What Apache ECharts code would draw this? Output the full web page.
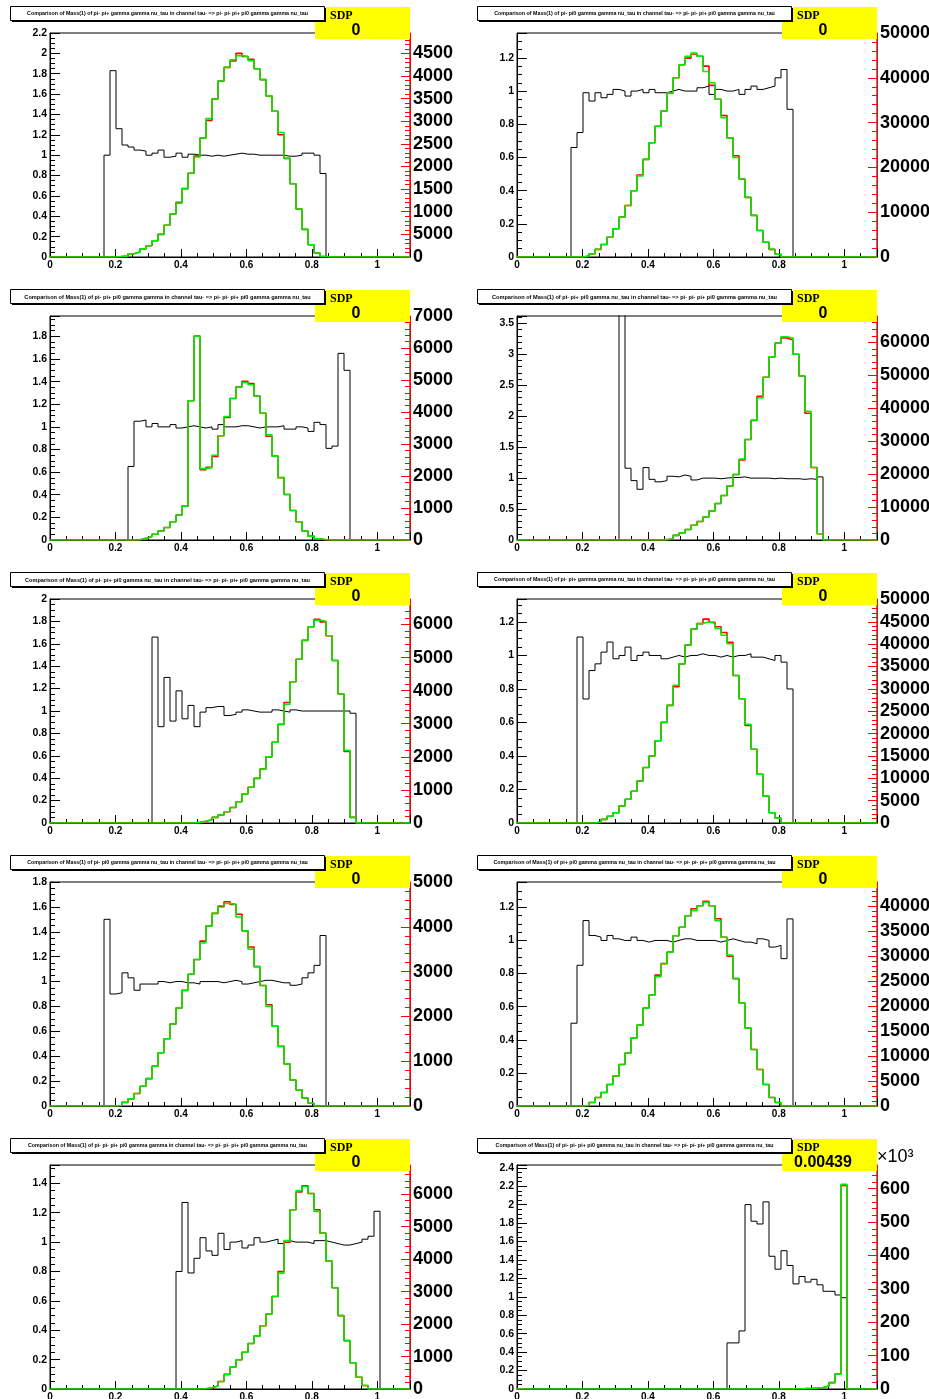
<!DOCTYPE html>
<html><head><meta charset="utf-8">
<script src="https://cdn.jsdelivr.net/npm/echarts@6/dist/echarts.min.js"></script>
<style>html,body{margin:0;padding:0;background:#fff}#c{width:929px;height:1399px}</style>
</head><body><div id="c"></div>
<script>
const BIN_COUNT = 60;
const X_MIN = 0, X_MAX = 1.1, X_STEP = 0.2;

const titles = [
 'Comparison of Mass(1) of pi- pi+ gamma gamma nu_tau in channel tau- => pi- pi- pi+ pi0 gamma gamma nu_tau',
 'Comparison of Mass(1) of pi- pi0 gamma gamma nu_tau in channel tau- => pi- pi- pi+ pi0 gamma gamma nu_tau',
 'Comparison of Mass(1) of pi- pi+ pi0 gamma gamma in channel tau- => pi- pi- pi+ pi0 gamma gamma nu_tau',
 'Comparison of Mass(1) of pi- pi+ pi0 gamma nu_tau in channel tau- => pi- pi- pi+ pi0 gamma gamma nu_tau',
 'Comparison of Mass(1) of pi- pi+ pi0 gamma nu_tau in channel tau- => pi- pi- pi+ pi0 gamma gamma nu_tau',
 'Comparison of Mass(1) of pi- pi+ gamma gamma nu_tau in channel tau- => pi- pi- pi+ pi0 gamma gamma nu_tau',
 'Comparison of Mass(1) of pi- pi0 gamma gamma nu_tau in channel tau- => pi- pi- pi+ pi0 gamma gamma nu_tau',
 'Comparison of Mass(1) of pi+ pi0 gamma gamma nu_tau in channel tau- => pi- pi- pi+ pi0 gamma gamma nu_tau',
 'Comparison of Mass(1) of pi- pi- pi+ pi0 gamma gamma in channel tau- => pi- pi- pi+ pi0 gamma gamma nu_tau',
 'Comparison of Mass(1) of pi- pi- pi+ pi0 gamma nu_tau in channel tau- => pi- pi- pi+ pi0 gamma gamma nu_tau'
];
const titleFontSizes = [5.3, 5.3, 5.6, 5.6, 5.6, 5.3, 5.3, 5.3, 5.3, 5.3];
const sdpValues = ['0','0','0','0','0','0','0','0','0','0.00439'];
const leftMax   = [2.2, 1.35, 1.98, 3.62, 2.0, 1.337, 1.8, 1.353, 1.525, 2.43];
const leftStep  = [0.2, 0.2, 0.2, 0.5, 0.2, 0.2, 0.2, 0.2, 0.2, 0.2];
const rightMax  = [49500, 50000, 70000, 68000, 67700, 50100, 50000, 44850, 69000, 671000];
const rightStep = [5000, 10000, 10000, 10000, 10000, 5000, 10000, 5000, 10000, 100000];
const rightLabelDivisor = [1,1,1,1,1,1,1,1,1,1000];

// ---- panel 1 ----
const ratio1 = [0,0,0,0,0,0,0,0,0,1.0,
 1.83,1.26,1.10,1.08,1.05,1.04,1.0,1.02,1.05,0.98,
 0.99,1.02,0.98,1.01,1.0,1.0,0.99,1.0,0.99,1.0,
 1.01,1.02,1.01,1.01,1.0,1.0,1.0,1.0,1.0,0.99,
 0.99,1.0,1.02,1.02,1.0,0.82];
const red1 = [0,0,0,0,0,0,0,0,0,0,
 0,100,200,700,1100,1800,2500,3600,5000,7000,
 9500,12100,15100,18500,22300,26300,30200,34900,38900,41900,
 43300,45000,44300,43700,41600,39200,35600,32200,27000,21800,
 16200,10600,6100,2700,900,100];
const green1 = [0,0,0,0,0,0,0,0,0,0,
 0,100,200,700,1100,1800,2500,3600,5000,7000,
 9500,11900,15100,18500,22100,26300,30600,34900,38900,41900,
 43600,44500,44300,43400,41600,39200,35600,32200,27500,21800,
 16200,10600,6100,2700,900,100];
// ---- panel 2 ----
const ratio2 = [0,0,0,0,0,0,0,0,0,0.66,
 0.75,0.99,0.94,0.99,0.96,0.98,1.01,1.0,0.97,1.0,
 1.01,0.99,1.01,0.99,0.99,1.0,1.01,1.0,1.0,1.0,
 1.02,1.03,0.98,1.01,1.0,1.0,1.01,0.98,1.01,1.03,
 1.01,1.02,1.03,1.08,1.13,0.89];
const red2 = [0,0,0,0,0,0,0,0,0,0,
 0,200,700,1700,2800,4400,6300,8900,11500,14800,
 18300,21800,25500,29200,32600,36600,40000,42900,44400,45300,
 44800,42600,38300,35200,31600,26600,22600,17400,13300,9300,
 5900,3300,1700,600];
const green2 = [0,0,0,0,0,0,0,0,0,0,
 0,200,700,1700,2800,4400,6300,8900,11500,14800,
 18100,21800,25500,29200,32600,36600,40000,42900,44800,45500,
 44800,41400,38900,35200,31100,26600,22200,17400,13300,9300,
 5900,3300,1700,600];
// ---- panel 3 ----
const ratio3 = [0,0,0,0,0,0,0,0,0,0,
 0,0,0,0.65,1.05,1.06,1.0,1.03,1.0,1.0,
 1.02,0.99,1.0,1.01,1.0,0.99,1.0,0.98,1.02,1.0,
 1.0,1.01,1.01,1.0,0.99,1.0,1.0,1.0,1.01,0.98,
 0.98,1.0,0.99,0.96,1.04,1.02,0.81,0.83,1.65,1.5];
const red3 = [0,0,0,0,0,0,0,0,0,0,
 0,0,0,0,100,500,1100,1800,2800,3900,
 5700,7800,10600,43500,63700,22000,22700,26100,32600,38300,
 44200,47800,49600,48900,45000,39600,32400,26200,19500,14200,
 9200,5700,2800,1200,400,100];
const green3 = [0,0,0,0,0,0,0,0,0,0,
 0,0,0,0,100,500,1100,1800,2800,3900,
 5700,7800,10600,43500,63700,22300,22700,26500,32600,38600,
 44200,47800,49200,48500,45000,39600,32900,26200,19500,14200,
 9200,5700,2800,1200,400,100];
// ---- panel 4 ----
const ratio4 = [0,0,0,0,0,0,0,0,0,0,
 0,0,0,0,0,0,0,4.2,1.16,0.96,
 0.82,1.17,0.98,0.94,0.96,1.03,1.02,1.05,1.03,0.97,
 1.0,1.0,1.0,0.99,1.0,1.01,1.01,1.02,1.0,1.0,
 1.0,1.0,0.99,1.0,0.99,0.99,0.99,0.98,0.99,0.98,1.02];
const red4 = [0,0,0,0,0,0,0,0,0,0,
 0,0,0,0,0,0,0,0,0,0,
 0,0,0,0,100,400,1400,2100,3200,4500,
 5600,7000,8800,11100,13500,16400,19900,24300,30500,36300,
 43600,49400,55600,59800,61300,60700,56400,49800,38500,22000,1900];
const green4 = [0,0,0,0,0,0,0,0,0,0,
 0,0,0,0,0,0,0,0,0,0,
 0,0,0,0,100,400,1400,2100,3200,4500,
 5600,7000,8800,11100,13500,16400,19900,24600,30500,36300,
 43100,49400,55600,59800,61700,61300,56400,49800,39100,22000,1900];
// ---- panel 5 ----
const ratio5 = [0,0,0,0,0,0,0,0,0,0,
 0,0,0,0,0,0,0,1.66,0.86,1.3,
 0.91,1.18,0.93,1.05,0.86,0.99,1.03,1.04,1.04,0.96,
 0.97,0.99,1.01,1.0,0.99,0.99,0.99,1.01,1.0,0.99,
 1.01,1.0,1.0,1.0,1.0,1.0,1.0,1.0,1.0,1.0,0.98];
const red5 = [0,0,0,0,0,0,0,0,0,0,
 0,0,0,0,0,0,0,0,0,0,
 0,0,0,0,200,500,1000,1700,2400,3400,
 4700,6400,8800,10800,13500,16300,20000,24400,29800,36400,
 42700,49500,55200,59300,61600,60800,56600,49100,39000,21600,1700];
const green5 = [0,0,0,0,0,0,0,0,0,0,
 0,0,0,0,0,0,0,0,0,0,
 0,0,0,0,200,500,1000,1700,2400,3400,
 4700,6400,8800,10800,13500,16300,20000,24400,29800,35900,
 42700,49500,55200,59300,61300,61000,56600,49100,39000,22000,1700];
// ---- panel 6 ----
const ratio6 = [0,0,0,0,0,0,0,0,0,0,
 1.11,0.74,0.91,0.95,1.02,1.08,0.98,1.0,1.05,0.97,
 1.0,1.02,1.0,1.0,0.98,0.99,1.0,0.99,1.0,1.0,
 1.01,1.0,1.0,0.99,1.0,0.99,1.0,1.0,1.01,0.99,
 0.99,0.98,0.97,1.0,0.96,0.8];
const red6 = [0,0,0,0,0,0,0,0,0,0,
 0,0,0,200,800,1500,2300,3800,5300,7100,
 9400,12400,15000,18400,22500,26300,30500,35600,39800,43400,
 44600,45600,44900,43900,42600,40400,33000,27800,21800,16500,
 10900,6000,2300,1100];
const green6 = [0,0,0,0,0,0,0,0,0,0,
 0,0,0,200,800,1500,2300,3800,5300,7100,
 9400,12400,15000,18400,22500,26300,30800,35600,39800,43400,
 44600,45000,44600,43500,42000,40100,33000,27800,22100,16500,
 10900,6000,2300,1100];
// ---- panel 7 ----
const ratio7 = [0,0,0,0,0,0,0,0,0,1.5,
 0.9,0.91,1.07,1.03,0.93,0.98,0.98,0.98,1.0,0.99,
 1.0,1.0,0.99,0.99,0.98,1.0,1.0,1.0,0.99,1.0,
 1.01,1.0,0.98,0.99,1.0,1.01,1.01,1.0,0.99,0.99,
 0.97,0.98,1.03,1.07,1.13,1.37];
const red7 = [0,0,0,0,0,0,0,0,0,0,
 0,100,800,1600,2800,4400,6100,8900,11900,15000,
 18300,21900,25800,29400,32700,36800,40200,43000,44500,45600,
 45000,42800,39100,35500,31100,26900,22600,17800,13300,9400,
 5800,3600,1800,600];
const green7 = [0,0,0,0,0,0,0,0,0,0,
 0,100,800,1600,2800,4400,6100,8900,11900,15000,
 18300,21900,25800,29400,32700,36400,40200,43000,44700,45200,
 45000,42200,39100,35000,31100,26900,22200,17800,13300,9400,
 5800,3600,1800,600];
// ---- panel 8 ----
const ratio8 = [0,0,0,0,0,0,0,0,0,0.5,
 0.85,1.12,1.03,1.02,1.0,1.03,1.01,1.0,1.0,1.02,
 1.0,0.99,1.0,1.0,1.0,0.99,1.0,1.01,1.01,1.0,
 1.0,1.0,1.0,0.99,1.0,1.01,1.0,0.99,0.99,0.98,
 1.01,1.0,0.96,0.97,0.89,1.13];
const red8 = [0,0,0,0,0,0,0,0,0,0,
 0,100,700,1700,2700,4300,6000,8300,10600,13600,
 16200,19600,22200,26200,28500,30800,34100,35800,38100,39500,
 40100,41000,40100,37500,33800,30000,25500,20600,15600,11300,
 7300,4300,1700,700];
const green8 = [0,0,0,0,0,0,0,0,0,0,
 0,100,700,1700,2700,4300,6000,8300,10600,13600,
 16200,19600,22200,25900,28500,30800,34100,35800,38100,39100,
 40100,40800,40100,37100,33800,30200,25500,20600,15600,11300,
 7300,4300,1700,700];
// ---- panel 9 ----
const ratio9 = [0,0,0,0,0,0,0,0,0,0,
 0,0,0,0,0,0,0,0,0,0,
 0,0.8,1.27,0.79,0.89,1.03,0.94,0.91,1.06,0.95,
 1.0,1.01,0.96,0.98,1.03,1.0,1.01,1.02,0.99,1.01,
 1.0,1.0,1.0,0.99,1.01,1.01,1.0,0.99,0.98,0.98,
 0.99,1.0,1.02,1.04,1.21];
const red9 = [0,0,0,0,0,0,0,0,0,0,
 0,0,0,0,0,0,0,0,0,0,
 0,0,0,0,0,100,400,900,2300,4500,
 6800,9000,11300,14000,16300,19500,23100,28500,36200,45200,
 55200,60700,62600,60200,55200,48000,39400,31200,22600,14900,
 8100,3600,1100];
const green9 = [0,0,0,0,0,0,0,0,0,0,
 0,0,0,0,0,0,0,0,0,0,
 0,0,0,0,0,100,400,900,2300,4500,
 6800,9000,11300,14000,16300,19500,23100,28500,35700,45700,
 55200,61100,62400,60200,54700,48000,39400,31200,22600,14900,
 8100,3600,1100];
// ---- panel 10 ----
const ratio10 = [0,0,0,0,0,0,0,0,0,0,
 0,0,0,0,0,0,0,0,0,0,
 0,0,0,0,0,0,0,0,0,0,
 0,0,0,0,0,0.5,0.5,0.63,2.0,1.82,
 1.79,2.03,1.44,1.3,1.5,1.34,1.14,1.22,1.16,1.19,
 1.13,1.06,1.06,1.02,0.99];
const red10 = [0,0,0,0,0,0,0,0,0,0,
 0,0,0,0,0,0,0,0,0,0,
 0,0,0,0,0,0,0,0,0,0,
 0,0,0,0,0,0,0,0,0,0,
 0,0,0,0,0,300,600,1000,1500,2500,
 4500,9000,19000,45000,610000];
const green10 = [0,0,0,0,0,0,0,0,0,0,
 0,0,0,0,0,0,0,0,0,0,
 0,0,0,0,0,0,0,0,0,0,
 0,0,0,0,0,0,0,0,0,0,
 0,0,0,0,0,300,600,1000,1500,2500,
 4500,9000,19000,44000,613000];

const ratios = [ratio1,ratio2,ratio3,ratio4,ratio5,ratio6,ratio7,ratio8,ratio9,ratio10];
const reds   = [red1,red2,red3,red4,red5,red6,red7,red8,red9,red10];
const greens = [green1,green2,green3,green4,green5,green6,green7,green8,green9,green10];

// ---- build ----
const binW = (X_MAX - X_MIN) / BIN_COUNT;
function histPoints(vals){
  const pts = [];
  for (let i = 0; i < BIN_COUNT; i++) pts.push([X_MIN + i*binW, vals[i] || 0]);
  pts.push([X_MAX, vals[BIN_COUNT-1] || 0]);
  return pts;
}
const aligned = (m, s) => Math.abs(m/s - Math.round(m/s)) < 1e-6;
const numFmt = v => String(Math.round(v*10000)/10000);
const FONT = '"Liberation Sans", Arial, Helvetica, sans-serif';

const COL_X = [0, 467], ROW_H = 283;
const grids=[], xAxes=[], yAxes=[], series=[], graphics=[];
for (let p = 0; p < 10; p++){
  const ox = COL_X[p%2], oy = Math.floor(p/2)*ROW_H;
  grids.push({left: ox+50, top: oy+33, width: 360, height: 224, show: true,
    outerBoundsMode: 'none', containLabel: false,
    borderColor: '#000', borderWidth: 1, backgroundColor: 'transparent'});
  xAxes.push({gridIndex: p, type: 'value', min: X_MIN, max: X_MAX, interval: X_STEP,
    axisLine: {show: true, onZero: false, lineStyle: {color: '#000', width: 1}},
    axisTick: {inside: true, length: 8, lineStyle: {color: '#000'}},
    minorTick: {show: true, splitNumber: 4, length: 4, lineStyle: {color: '#000'}},
    splitLine: {show: false},
    axisLabel: {showMaxLabel: false, fontSize: 10, fontWeight: 'bold', fontFamily: FONT,
      color: '#000', margin: 3, formatter: numFmt}});
  const lm = leftMax[p], ls = leftStep[p];
  yAxes.push({gridIndex: p, type: 'value', position: 'left', min: 0, max: lm, interval: ls,
    axisLine: {show: true, lineStyle: {color: '#000', width: 1}},
    axisTick: {inside: true, length: 10, lineStyle: {color: '#000'}},
    minorTick: {show: true, splitNumber: ls === 0.5 ? 5 : 4, length: 5, lineStyle: {color: '#000'}},
    splitLine: {show: false},
    axisLabel: {showMaxLabel: aligned(lm, ls), fontSize: 10.5, fontWeight: 'bold', fontFamily: FONT,
      color: '#000', margin: 3, formatter: numFmt}});
  const rm = rightMax[p], rs = rightStep[p], div = rightLabelDivisor[p];
  const rLabel = {showMaxLabel: aligned(rm, rs), fontSize: 18, fontWeight: 'bold', fontFamily: FONT,
      color: '#000', margin: 3, formatter: v => String(Math.round(v/div))};
  if (p%2 === 0){ rLabel.width = 44; rLabel.overflow = 'truncate'; rLabel.ellipsis = ''; }
  yAxes.push({gridIndex: p, type: 'value', position: 'right', min: 0, max: rm, interval: rs,
    axisLine: {show: true, lineStyle: {color: '#ff0000', width: 1}},
    axisTick: {inside: true, length: 9, lineStyle: {color: '#ff0000'}},
    minorTick: {show: true, splitNumber: 5, length: 5, lineStyle: {color: '#ff0000'}},
    splitLine: {show: false},
    axisLabel: rLabel});
  const common = {type: 'line', step: 'end', showSymbol: false, symbol: 'none', clip: true,
    animation: false, silent: true, xAxisIndex: p};
  series.push(Object.assign({}, common, {name: 'ratio'+(p+1), yAxisIndex: 2*p, z: 2,
    data: histPoints(ratios[p]), lineStyle: {color: '#000', width: 1}}));
  series.push(Object.assign({}, common, {name: 'red'+(p+1), yAxisIndex: 2*p+1, z: 3,
    data: histPoints(reds[p]), lineStyle: {color: '#ff0000', width: 1.6}}));
  series.push(Object.assign({}, common, {name: 'green'+(p+1), yAxisIndex: 2*p+1, z: 4,
    data: histPoints(greens[p]), lineStyle: {color: '#00ee00', width: 1.6}}));

  // SDP box (below title box)
  graphics.push({type: 'rect', z: 100, silent: true,
    shape: {x: ox+315, y: oy+7, width: 95, height: 32},
    style: {fill: '#ffff00'}});
  graphics.push({type: 'text', z: 101, silent: true, x: ox+330, y: oy+16,
    style: {text: 'SDP', fontSize: 12, fontWeight: 'bold', fontFamily: '"Liberation Serif", "Times New Roman", serif',
      fill: '#000', align: 'left', verticalAlign: 'middle'}});
  graphics.push({type: 'text', z: 101, silent: true, x: ox+356, y: oy+31,
    style: {text: sdpValues[p], fontSize: 16, fontWeight: 'bold', fontFamily: FONT,
      fill: '#000', align: 'center', verticalAlign: 'middle'}});
  // title box
  graphics.push({type: 'rect', z: 102, silent: true,
    shape: {x: ox+12, y: oy+8, width: 314, height: 14},
    style: {fill: '#000'}});
  graphics.push({type: 'rect', z: 103, silent: true,
    shape: {x: ox+10.5, y: oy+6.5, width: 314, height: 14},
    style: {fill: '#fff', stroke: '#000', lineWidth: 1}});
  graphics.push({type: 'text', z: 104, silent: true, x: ox+167.5, y: oy+14,
    style: {text: titles[p], fontSize: titleFontSizes[p], fontWeight: 'bold', fontFamily: FONT, fill: '#000',
      align: 'center', verticalAlign: 'middle'}});
}
graphics.push({type: 'text', z: 101, silent: true, x: COL_X[1]+410, y: 4*ROW_H+25,
  style: {text: '×10³', fontSize: 18, fontFamily: FONT, fill: '#000', align: 'left', verticalAlign: 'middle'}});

const chart = echarts.init(document.getElementById('c'), null, {renderer: 'canvas'});
chart.setOption({
  animation: false,
  backgroundColor: '#fff',
  grid: grids, xAxis: xAxes, yAxis: yAxes, series: series, graphic: graphics
});
</script></body></html>
